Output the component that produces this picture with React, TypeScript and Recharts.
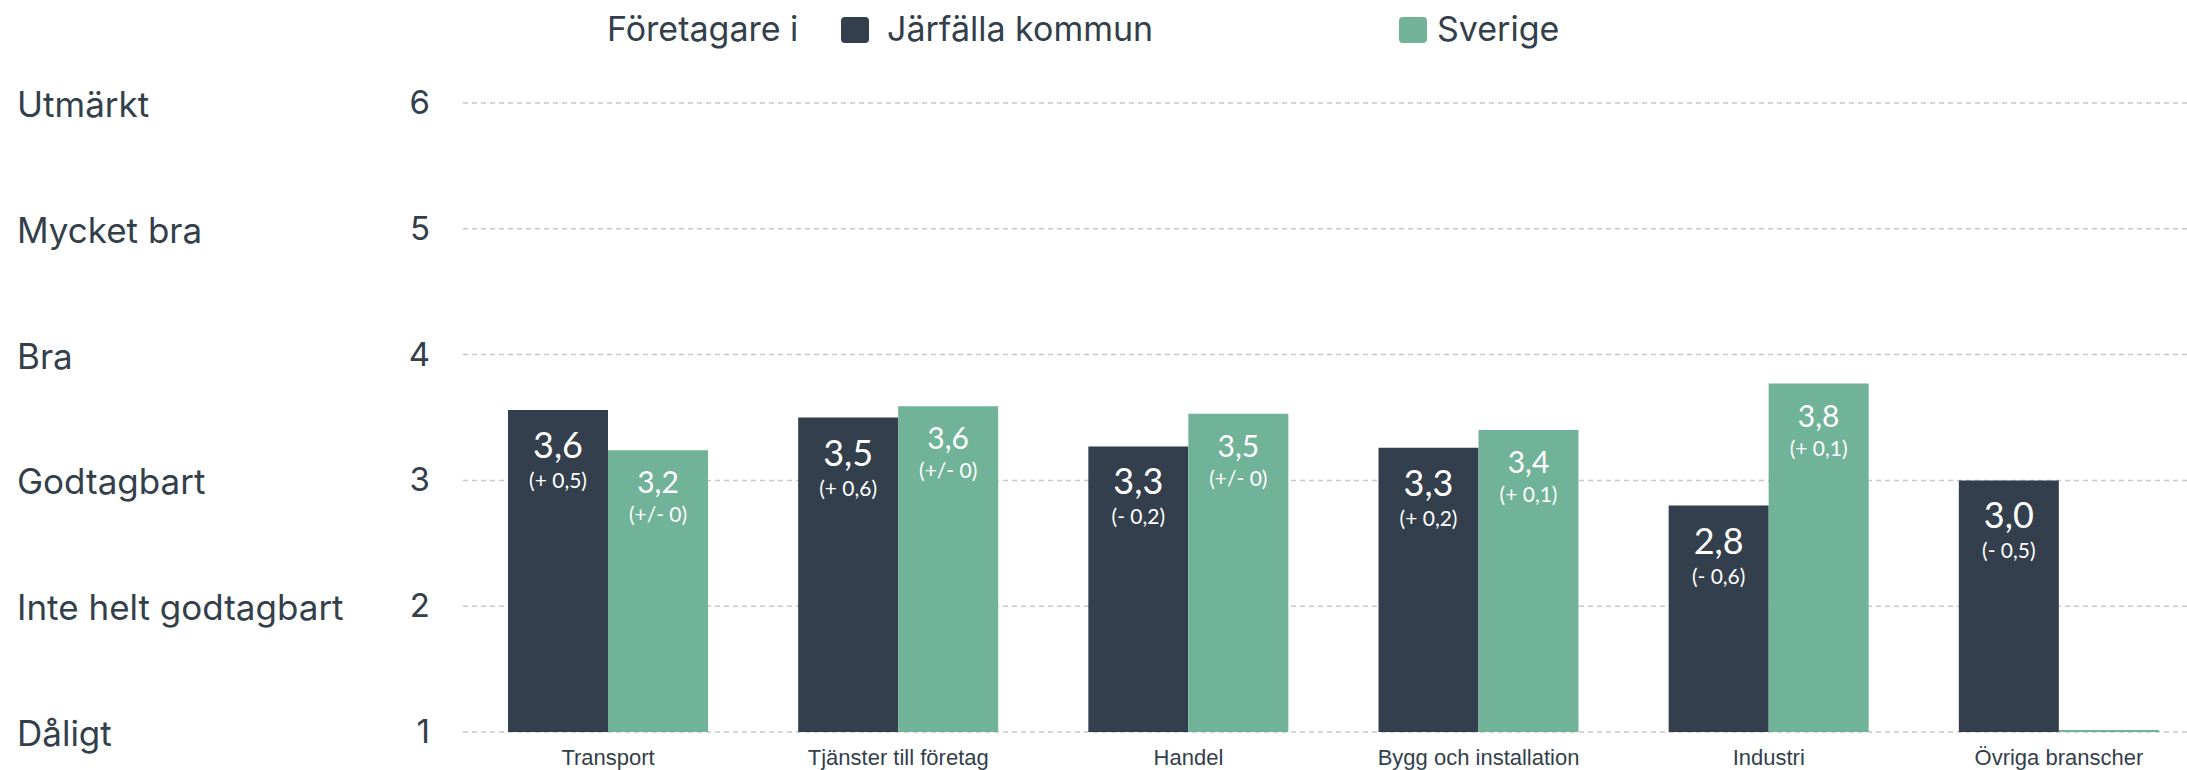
import React from "react";
import { BarChart, Bar, XAxis, YAxis, CartesianGrid, LabelList } from "recharts";

const categories = [
  "Transport",
  "Tjänster till företag",
  "Handel",
  "Bygg och installation",
  "Industri",
  "Övriga branscher",
];
const jarfallaValues = [3.56, 3.5, 3.27, 3.26, 2.8, 3.0];
const sverigeValues = [3.24, 3.59, 3.53, 3.4, 3.77, 1.0];
const jarfallaLabels = ["3,6", "3,5", "3,3", "3,3", "2,8", "3,0"];
const jarfallaChanges = ["(+ 0,5)", "(+ 0,6)", "(- 0,2)", "(+ 0,2)", "(- 0,6)", "(- 0,5)"];
const sverigeLabels = ["3,2", "3,6", "3,5", "3,4", "3,8", ""];
const sverigeChanges = ["(+/- 0)", "(+/- 0)", "(+/- 0)", "(+ 0,1)", "(+ 0,1)", ""];
const yTicks = [1, 2, 3, 4, 5, 6];
const yTickLabels = ["Dåligt", "Inte helt godtagbart", "Godtagbart", "Bra", "Mycket bra", "Utmärkt"];
const legendTitle = "Företagare i";
const seriesNames = ["Järfälla kommun", "Sverige"];

const DARK = "#333f4c";
const GREEN = "#71b398";
const TEXT = "#333f4b";

const data = categories.map((name, i) => ({
  name,
  jarfalla: jarfallaValues[i],
  sverige: sverigeValues[i],
}));

const YTick = (props: any) => {
  const { y, payload } = props;
  const v = payload.value as number;
  return (
    <g>
      <text x={430} y={y} dy={11} textAnchor="end" fontFamily="Inter, sans-serif" fontSize={33} fill={TEXT}>
        {v}
      </text>
      <text x={17} y={y} dy={14} textAnchor="start" fontFamily="Inter, sans-serif" fontSize={35} fill={TEXT}>
        {yTickLabels[v - 1]}
      </text>
    </g>
  );
};

const XTick = (props: any) => {
  const { x, y, payload } = props;
  return (
    <text x={x} y={y + 33} textAnchor="middle" fontFamily="'Liberation Sans', Arial, sans-serif" fontSize={22} fill={TEXT}>
      {payload.value}
    </text>
  );
};

const makeLabel = (labels: string[], changes: string[], big: boolean) => (props: any) => {
  const { x, y, width, index } = props;
  const text = labels[index];
  if (!text) return null;
  const cx = x + width / 2;
  return (
    <g>
      <text
        x={cx}
        y={y + (big ? 48 : 43)}
        textAnchor="middle"
        fontFamily="Lato, sans-serif"
        fontSize={big ? 36 : 30}
        fill="#ffffff"
      >
        {text}
      </text>
      <text
        x={cx}
        y={y + (big ? 78 : 72)}
        textAnchor="middle"
        fontFamily="Lato, sans-serif"
        fontSize={21}
        fill="#ffffff"
      >
        {changes[index]}
      </text>
    </g>
  );
};

const legendText: React.CSSProperties = {
  position: "absolute",
  top: 11,
  fontFamily: "Inter, sans-serif",
  fontSize: 34,
  lineHeight: "36px",
  color: TEXT,
  whiteSpace: "nowrap",
};
const legendBox: React.CSSProperties = {
  position: "absolute",
  top: 17,
  width: 28,
  height: 26,
  borderRadius: 4,
};

export default function App() {
  return (
    <div
      style={{
        position: "absolute",
        left: 0,
        top: 0,
        width: 2187,
        height: 770,
        overflow: "hidden",
        background: "#ffffff",
      }}
    >
      <div style={{ ...legendText, left: 607 }}>{legendTitle}</div>
      <div style={{ ...legendBox, left: 841, background: DARK }} />
      <div style={{ ...legendText, left: 887 }}>{seriesNames[0]}</div>
      <div style={{ ...legendBox, left: 1399, background: GREEN }} />
      <div style={{ ...legendText, left: 1437 }}>{seriesNames[1]}</div>
      <div style={{ position: "absolute", left: 0, top: 0 }}>
        <BarChart
          width={2204}
          height={770}
          data={data}
          margin={{ top: 103, right: 0, bottom: 0, left: 0 }}
          barCategoryGap={45}
          barGap={0}
        >
          <CartesianGrid
            vertical={false}
            horizontal={true}
            stroke="#c8c8c8"
            strokeWidth={1.5}
            strokeDasharray="5 4"
          />
          <XAxis
            dataKey="name"
            height={38}
            axisLine={false}
            tickLine={false}
            tickSize={0}
            tickMargin={0}
            tick={<XTick />}
            interval={0}
          />
          <YAxis
            type="number"
            domain={[1, 6]}
            ticks={yTicks}
            width={463}
            axisLine={false}
            tickLine={false}
            tickSize={0}
            tickMargin={0}
            tick={<YTick />}
            allowDataOverflow
          />
          <Bar dataKey="jarfalla" name={seriesNames[0]} fill={DARK} isAnimationActive={false}>
            <LabelList dataKey="jarfalla" content={makeLabel(jarfallaLabels, jarfallaChanges, true)} />
          </Bar>
          <Bar dataKey="sverige" name={seriesNames[1]} fill={GREEN} minPointSize={2} isAnimationActive={false}>
            <LabelList dataKey="sverige" content={makeLabel(sverigeLabels, sverigeChanges, false)} />
          </Bar>
        </BarChart>
      </div>
    </div>
  );
}
